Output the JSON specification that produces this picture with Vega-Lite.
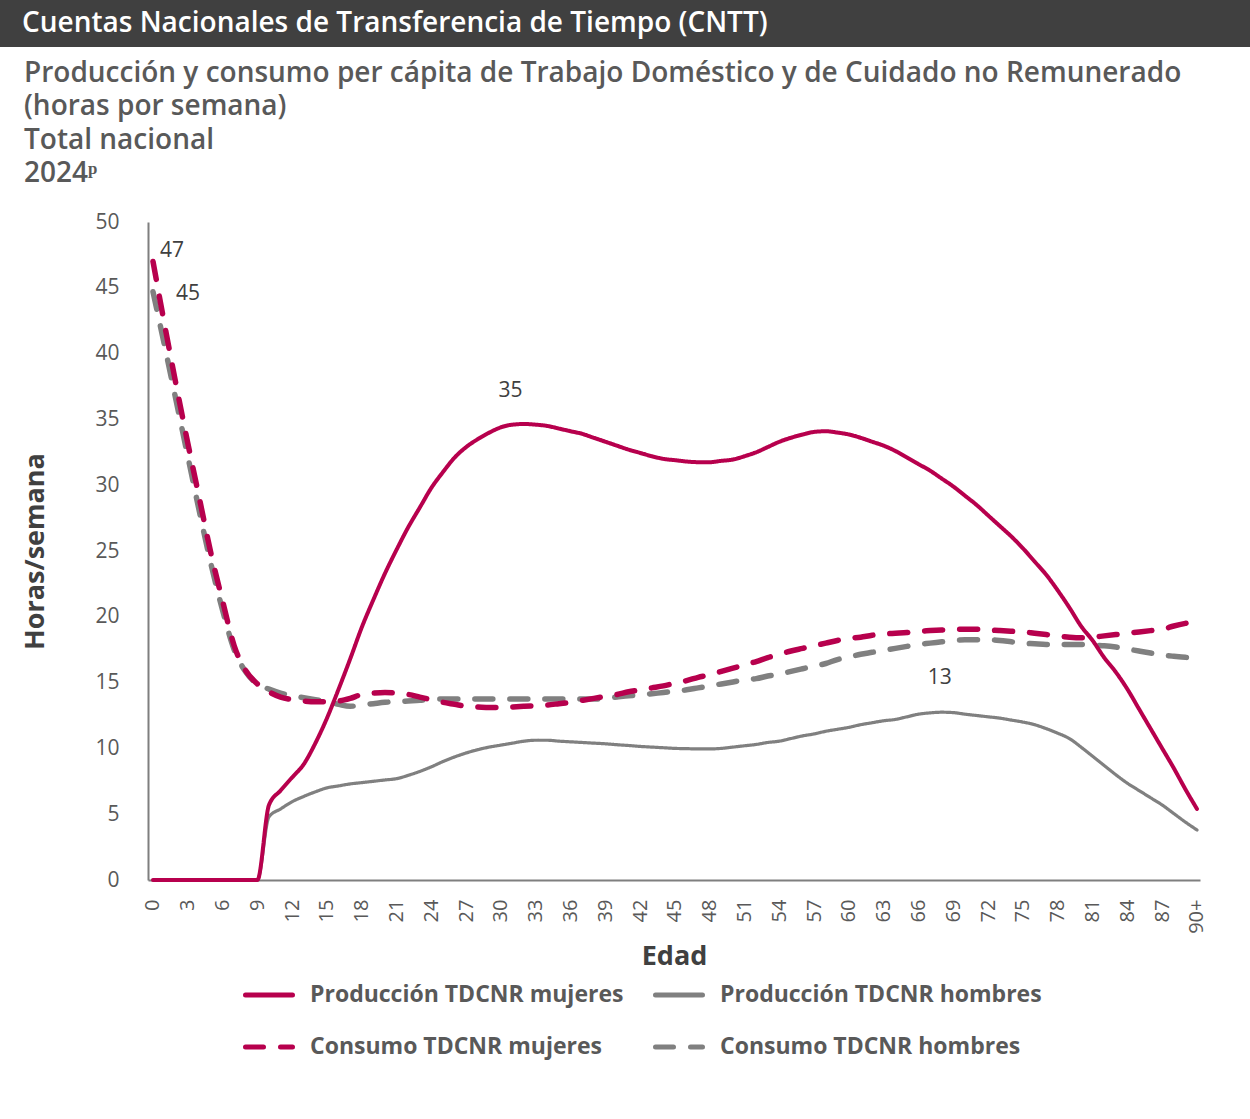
{
  "$schema": "https://vega.github.io/schema/vega-lite/v6.json",
  "padding": {"left": 0, "top": 0, "right": 0, "bottom": 40},
  "background": "white",
  "spacing": 12,
  "config": {"view": {"stroke": null}, "font": "Open Sans"},
  "datasets": {
    "tdcnr": [
      {"edad":0,"pm":0,"ph":0,"cm":47.0,"ch":44.7},
      {"edad":1,"pm":0,"ph":0,"cm":42.2,"ch":40.6},
      {"edad":2,"pm":0,"ph":0,"cm":37.6,"ch":36.4},
      {"edad":3,"pm":0,"ph":0,"cm":33.2,"ch":32.2},
      {"edad":4,"pm":0,"ph":0,"cm":29.0,"ch":28.0},
      {"edad":5,"pm":0,"ph":0,"cm":24.8,"ch":24.0},
      {"edad":6,"pm":0,"ph":0,"cm":21.2,"ch":20.5},
      {"edad":7,"pm":0,"ph":0,"cm":17.8,"ch":17.5},
      {"edad":8,"pm":0,"ph":0,"cm":15.9,"ch":15.8},
      {"edad":9,"pm":0,"ph":0,"cm":14.9,"ch":14.9},
      {"edad":10,"pm":5.7,"ph":4.8,"cm":14.3,"ch":14.5},
      {"edad":11,"pm":6.8,"ph":5.4,"cm":13.9,"ch":14.2},
      {"edad":12,"pm":7.8,"ph":5.95,"cm":13.7,"ch":14.0},
      {"edad":13,"pm":8.8,"ph":6.35,"cm":13.6,"ch":13.85},
      {"edad":14,"pm":10.4,"ph":6.7,"cm":13.55,"ch":13.7},
      {"edad":15,"pm":12.3,"ph":7.0,"cm":13.55,"ch":13.55},
      {"edad":16,"pm":14.5,"ph":7.15,"cm":13.6,"ch":13.35},
      {"edad":17,"pm":16.8,"ph":7.3,"cm":13.8,"ch":13.2},
      {"edad":18,"pm":19.2,"ph":7.4,"cm":14.1,"ch":13.3},
      {"edad":19,"pm":21.3,"ph":7.5,"cm":14.2,"ch":13.4},
      {"edad":20,"pm":23.3,"ph":7.6,"cm":14.25,"ch":13.5},
      {"edad":21,"pm":25.1,"ph":7.7,"cm":14.2,"ch":13.55},
      {"edad":22,"pm":26.8,"ph":7.95,"cm":14.1,"ch":13.6},
      {"edad":23,"pm":28.3,"ph":8.25,"cm":13.9,"ch":13.65},
      {"edad":24,"pm":29.8,"ph":8.6,"cm":13.7,"ch":13.75},
      {"edad":25,"pm":31.0,"ph":9.0,"cm":13.5,"ch":13.75},
      {"edad":26,"pm":32.1,"ph":9.35,"cm":13.35,"ch":13.75},
      {"edad":27,"pm":32.9,"ph":9.65,"cm":13.2,"ch":13.75},
      {"edad":28,"pm":33.5,"ph":9.9,"cm":13.15,"ch":13.75},
      {"edad":29,"pm":34.0,"ph":10.1,"cm":13.1,"ch":13.75},
      {"edad":30,"pm":34.4,"ph":10.25,"cm":13.1,"ch":13.75},
      {"edad":31,"pm":34.6,"ph":10.4,"cm":13.15,"ch":13.75},
      {"edad":32,"pm":34.65,"ph":10.55,"cm":13.2,"ch":13.75},
      {"edad":33,"pm":34.6,"ph":10.62,"cm":13.25,"ch":13.75},
      {"edad":34,"pm":34.5,"ph":10.62,"cm":13.3,"ch":13.75},
      {"edad":35,"pm":34.3,"ph":10.55,"cm":13.4,"ch":13.75},
      {"edad":36,"pm":34.1,"ph":10.5,"cm":13.5,"ch":13.75},
      {"edad":37,"pm":33.9,"ph":10.45,"cm":13.65,"ch":13.75},
      {"edad":38,"pm":33.6,"ph":10.4,"cm":13.8,"ch":13.75},
      {"edad":39,"pm":33.3,"ph":10.35,"cm":13.95,"ch":13.8},
      {"edad":40,"pm":33.0,"ph":10.28,"cm":14.1,"ch":13.9},
      {"edad":41,"pm":32.7,"ph":10.22,"cm":14.3,"ch":14.0},
      {"edad":42,"pm":32.45,"ph":10.15,"cm":14.45,"ch":14.05},
      {"edad":43,"pm":32.2,"ph":10.1,"cm":14.6,"ch":14.15},
      {"edad":44,"pm":32.0,"ph":10.05,"cm":14.75,"ch":14.25},
      {"edad":45,"pm":31.9,"ph":10.0,"cm":14.95,"ch":14.35},
      {"edad":46,"pm":31.8,"ph":9.98,"cm":15.15,"ch":14.45},
      {"edad":47,"pm":31.75,"ph":9.96,"cm":15.4,"ch":14.6},
      {"edad":48,"pm":31.75,"ph":9.96,"cm":15.6,"ch":14.75},
      {"edad":49,"pm":31.85,"ph":10.0,"cm":15.85,"ch":14.9},
      {"edad":50,"pm":31.95,"ph":10.1,"cm":16.1,"ch":15.05},
      {"edad":51,"pm":32.2,"ph":10.2,"cm":16.35,"ch":15.2},
      {"edad":52,"pm":32.5,"ph":10.3,"cm":16.6,"ch":15.3},
      {"edad":53,"pm":32.9,"ph":10.45,"cm":16.9,"ch":15.5},
      {"edad":54,"pm":33.3,"ph":10.55,"cm":17.15,"ch":15.65},
      {"edad":55,"pm":33.6,"ph":10.75,"cm":17.4,"ch":15.85},
      {"edad":56,"pm":33.85,"ph":10.95,"cm":17.6,"ch":16.05},
      {"edad":57,"pm":34.05,"ph":11.1,"cm":17.8,"ch":16.25},
      {"edad":58,"pm":34.1,"ph":11.3,"cm":18.0,"ch":16.45},
      {"edad":59,"pm":34.0,"ph":11.45,"cm":18.2,"ch":16.75},
      {"edad":60,"pm":33.85,"ph":11.6,"cm":18.35,"ch":16.95},
      {"edad":61,"pm":33.6,"ph":11.8,"cm":18.45,"ch":17.15},
      {"edad":62,"pm":33.3,"ph":11.95,"cm":18.6,"ch":17.3},
      {"edad":63,"pm":33.0,"ph":12.1,"cm":18.7,"ch":17.45},
      {"edad":64,"pm":32.6,"ph":12.2,"cm":18.75,"ch":17.6},
      {"edad":65,"pm":32.1,"ph":12.4,"cm":18.8,"ch":17.75},
      {"edad":66,"pm":31.6,"ph":12.6,"cm":18.9,"ch":17.9},
      {"edad":67,"pm":31.1,"ph":12.7,"cm":18.95,"ch":18.0},
      {"edad":68,"pm":30.5,"ph":12.75,"cm":19.0,"ch":18.1},
      {"edad":69,"pm":29.9,"ph":12.72,"cm":19.05,"ch":18.2},
      {"edad":70,"pm":29.2,"ph":12.6,"cm":19.05,"ch":18.25},
      {"edad":71,"pm":28.5,"ph":12.5,"cm":19.05,"ch":18.25},
      {"edad":72,"pm":27.7,"ph":12.4,"cm":19.0,"ch":18.25},
      {"edad":73,"pm":26.9,"ph":12.3,"cm":18.95,"ch":18.2},
      {"edad":74,"pm":26.1,"ph":12.15,"cm":18.9,"ch":18.1},
      {"edad":75,"pm":25.2,"ph":12.0,"cm":18.85,"ch":18.0},
      {"edad":76,"pm":24.2,"ph":11.8,"cm":18.75,"ch":17.95},
      {"edad":77,"pm":23.2,"ph":11.5,"cm":18.65,"ch":17.9},
      {"edad":78,"pm":22.0,"ph":11.15,"cm":18.55,"ch":17.9},
      {"edad":79,"pm":20.7,"ph":10.75,"cm":18.45,"ch":17.9},
      {"edad":80,"pm":19.3,"ph":10.1,"cm":18.4,"ch":17.9},
      {"edad":81,"pm":18.2,"ph":9.4,"cm":18.45,"ch":17.85},
      {"edad":82,"pm":16.9,"ph":8.7,"cm":18.55,"ch":17.8},
      {"edad":83,"pm":15.8,"ph":8.0,"cm":18.65,"ch":17.7},
      {"edad":84,"pm":14.5,"ph":7.35,"cm":18.75,"ch":17.55},
      {"edad":85,"pm":13.0,"ph":6.8,"cm":18.85,"ch":17.4},
      {"edad":86,"pm":11.5,"ph":6.25,"cm":18.95,"ch":17.25},
      {"edad":87,"pm":10.0,"ph":5.7,"cm":19.05,"ch":17.1},
      {"edad":88,"pm":8.5,"ph":5.05,"cm":19.3,"ch":17.0},
      {"edad":89,"pm":6.9,"ph":4.4,"cm":19.5,"ch":16.92},
      {"edad":90,"pm":5.4,"ph":3.8,"cm":19.65,"ch":16.9}
    ],
    "etiquetas": [
      {"edad":0,"horas":47.0,"txt":"47"},
      {"edad":0,"horas":44.7,"txt":"45"},
      {"edad":31,"horas":34.6,"txt":"35"},
      {"edad":68,"horas":12.75,"txt":"13"}
    ]
  },
  "vconcat": [
    {
      "width": 1250,
      "height": 47,
      "view": {"fill": "#404040", "stroke": null},
      "data": {"values": [{"t": "Cuentas Nacionales de Transferencia de Tiempo (CNTT)"}]},
      "mark": {"type": "text", "align": "left", "baseline": "middle", "color": "white", "fontSize": 28, "fontWeight": 600, "font": "Open Sans"},
      "encoding": {"text": {"field": "t"}, "x": {"value": 22}, "y": {"value": 24}}
    },
    {
      "width": 1200,
      "height": 658,
      "title": {
        "text": ["Producción y consumo per cápita de Trabajo Doméstico y de Cuidado no Remunerado", "(horas por semana)", "Total nacional", "2024ᵖ"],
        "anchor": "start",
        "frame": "bounds",
        "dx": 24,
        "font": "Open Sans",
        "fontSize": 28,
        "fontWeight": 600,
        "color": "#595959",
        "lineHeight": 33.5,
        "offset": 23
      },
      "layer": [
        {
          "data": {"name": "tdcnr"},
          "transform": [{"fold": ["ch", "cm", "ph", "pm"], "as": ["serie", "horas"]}],
          "mark": {
            "type": "line",
            "interpolate": "monotone",
            "strokeCap": "round",
            "strokeWidth": {"expr": "datum.serie == 'pm' ? 4 : datum.serie == 'ph' ? 3.2 : 5.5"}
          },
          "encoding": {
            "x": {
              "field": "edad", "type": "quantitative",
              "scale": {"domain": [-0.43, 90.26], "range": [148, 1200], "nice": false, "zero": false},
              "axis": {
                "values": [0,3,6,9,12,15,18,21,24,27,30,33,36,39,42,45,48,51,54,57,60,63,66,69,72,75,78,81,84,87,90],
                "tickCount": 60,
                "labelExpr": "datum.value == 90 ? '90+' : datum.label",
                "labelAngle": -90,
                "labelOverlap": false,
                "labelFontSize": 20,
                "labelColor": "#595959",
                "labelPadding": 19,
                "ticks": false,
                "tickSize": 0,
                "grid": false,
                "domainColor": "#7F7F7F",
                "domainWidth": 2,
                "title": "Edad",
                "titleFontSize": 27,
                "titleFontWeight": "bold",
                "titleColor": "#404040",
                "titlePadding": 10
              }
            },
            "y": {
              "field": "horas", "type": "quantitative",
              "scale": {"domain": [0, 50], "nice": false},
              "axis": {
                "values": [0,5,10,15,20,25,30,35,40,45,50],
                "tickCount": 20,
                "offset": -148,
                "labelFontSize": 21,
                "labelColor": "#595959",
                "labelPadding": 29,
                "ticks": false,
                "tickSize": 0,
                "grid": false,
                "domainColor": "#7F7F7F",
                "domainWidth": 2,
                "title": "Horas/semana",
                "titleFontSize": 27,
                "titleFontWeight": "bold",
                "titleColor": "#404040",
                "titlePadding": 45
              }
            },
            "color": {
              "field": "serie", "type": "nominal",
              "scale": {"domain": ["pm", "ph", "cm", "ch"], "range": ["#B7004D", "#808080", "#B7004D", "#808080"]},
              "legend": {
                "orient": "none",
                "direction": "horizontal",
                "legendX": 243,
                "legendY": 969,
                "columns": 2,
                "padding": 0,
                "title": null,
                "symbolType": "stroke",
                "symbolSize": 2209,
                "symbolStrokeWidth": 5,
                "labelFontSize": 23,
                "labelFontWeight": "bold",
                "labelColor": "#595959",
                "labelOffset": 15,
                "labelLimit": 500,
                "rowPadding": 14,
                "columnPadding": 21,
                "labelExpr": "datum.label == 'pm' ? 'Producción TDCNR mujeres' : datum.label == 'ph' ? 'Producción TDCNR hombres' : datum.label == 'cm' ? 'Consumo TDCNR mujeres' : 'Consumo TDCNR hombres'",
                "encode": {
                  "symbols": {
                    "update": {
                      "strokeWidth": {"value": 5},
                      "stroke": {"signal": "datum.value == 'pm' || datum.value == 'cm' ? '#B7004D' : '#6E6E6E'"},
                      "strokeCap": {"value": "round"}
                    }
                  }
                }
              }
            },
            "strokeDash": {
              "field": "serie", "type": "nominal",
              "scale": {"domain": ["pm", "ph", "cm", "ch"], "range": [[1, 0], [1, 0], [18, 17], [18, 17]]}
            }
          }
        },
        {
          "data": {"name": "etiquetas"},
          "transform": [{"filter": "datum.txt == '47'"}],
          "mark": {"type": "text", "fontSize": 21, "color": "#404040", "dx": 19, "dy": -10},
          "encoding": {"x": {"field": "edad", "type": "quantitative"}, "y": {"field": "horas", "type": "quantitative"}, "text": {"field": "txt"}}
        },
        {
          "data": {"name": "etiquetas"},
          "transform": [{"filter": "datum.txt == '45'"}],
          "mark": {"type": "text", "fontSize": 21, "color": "#404040", "dx": 35, "dy": 2},
          "encoding": {"x": {"field": "edad", "type": "quantitative"}, "y": {"field": "horas", "type": "quantitative"}, "text": {"field": "txt"}}
        },
        {
          "data": {"name": "etiquetas"},
          "transform": [{"filter": "datum.txt == '35' || datum.txt == '13'"}],
          "mark": {"type": "text", "fontSize": 21, "color": "#404040", "dx": -2, "dy": -34},
          "encoding": {"x": {"field": "edad", "type": "quantitative"}, "y": {"field": "horas", "type": "quantitative"}, "text": {"field": "txt"}}
        }
      ]
    }
  ]
}
